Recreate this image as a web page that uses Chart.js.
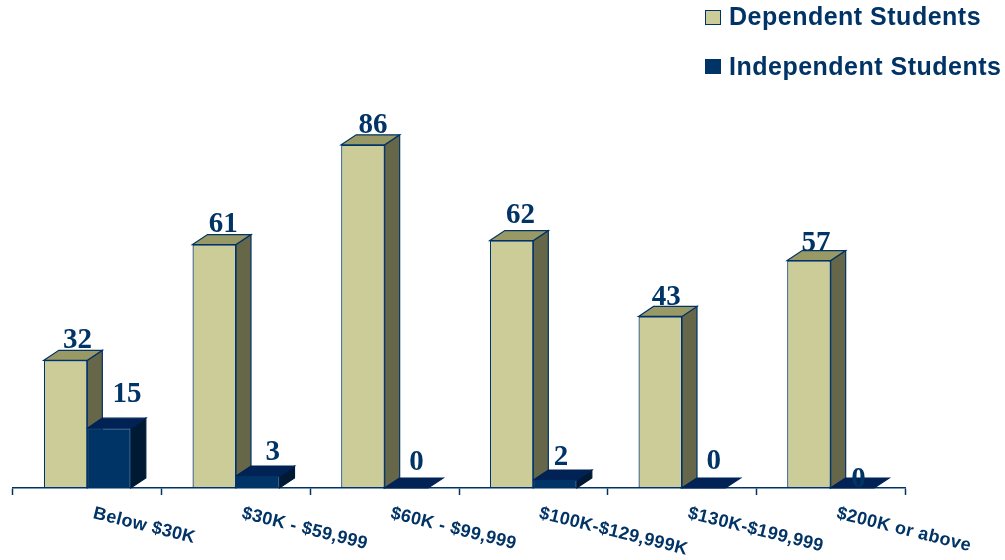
<!DOCTYPE html>
<html>
<head>
<meta charset="utf-8">
<title>Students by income</title>
<script src="https://cdn.jsdelivr.net/npm/chart.js@4"></script>
<style>
  html, body { margin: 0; padding: 0; background: #fff; }
  canvas { display: block; }
</style>
</head>
<body>
<canvas id="incomeChart" width="1005" height="560"></canvas>
<script>
var categories = ['Below $30K', '$30K - $59,999', '$60K - $99,999', '$100K-$129,999K', '$130K-$199,999', '$200K or above'];
var dependentValues = [32, 61, 86, 62, 43, 57];
var independentValues = [15, 3, 0, 2, 0, 0];
var seriesNames = ['Dependent Students', 'Independent Students'];

// how far each number sits from its bar top, as placed in the original [dx, dy]
var dependentNudge = [[12, -12], [9, -13], [10, -12], [9, -18], [6, -11], [7, -10]];
var independentNudge = [[18, -26], [15, -16], [10, -18], [6, -15], [10, -19], [6, -1]];

var NAVY = '#003366';
var DEPTH_X = 15;
var DEPTH_Y = 10;
var faces = [
    { top: '#999966', side: '#666648', nudge: dependentNudge },
    { top: '#002255', side: '#001a33', nudge: independentNudge }
];

function poly(ctx, pts, fill, stroke) {
    ctx.beginPath();
    pts.forEach(function (p, i) {
        if (i === 0) ctx.moveTo(p[0], p[1]); else ctx.lineTo(p[0], p[1]);
    });
    ctx.closePath();
    ctx.fillStyle = fill;
    ctx.fill();
    ctx.strokeStyle = stroke;
    ctx.lineWidth = 1.2;
    ctx.stroke();
}

// top and side faces go behind the library's own bars
var depthPlugin = {
    id: 'depth',
    beforeDatasetsDraw: function (chart) {
        var ctx = chart.ctx;
        ctx.save();
        faces.forEach(function (face, d) {
            chart.getDatasetMeta(d).data.forEach(function (bar) {
                var l = bar.x - bar.width / 2;
                var r = bar.x + bar.width / 2;
                var t = bar.y;
                var b = bar.base;
                if (b - t > 0) {
                    poly(ctx, [[r, t], [r + DEPTH_X, t - DEPTH_Y], [r + DEPTH_X, b - DEPTH_Y], [r, b]], face.side, d === 0 ? NAVY : face.side);
                }
                poly(ctx, [[l, t], [l + DEPTH_X, t - DEPTH_Y], [r + DEPTH_X, t - DEPTH_Y], [r, t]], face.top, d === 0 ? NAVY : face.top);
            });
        });
        ctx.restore();
    }
};

// numbers, slanted category labels and the legend
var textPlugin = {
    id: 'texts',
    afterDraw: function (chart) {
        var ctx = chart.ctx;
        var xScale = chart.scales.x;
        ctx.save();
        ctx.fillStyle = NAVY;

        ctx.font = 'bold 29px "Liberation Serif"';
        ctx.textAlign = 'center';
        ctx.textBaseline = 'alphabetic';
        faces.forEach(function (face, d) {
            chart.getDatasetMeta(d).data.forEach(function (bar, i) {
                ctx.fillText(chart.data.datasets[d].data[i], bar.x + face.nudge[i][0], bar.y + face.nudge[i][1]);
            });
        });

        ctx.font = 'bold 18px "Liberation Sans"';
        ctx.letterSpacing = '0.35px';
        ctx.textAlign = 'left';
        categories.forEach(function (label, i) {
            ctx.save();
            ctx.translate(xScale.getPixelForTick(i) + 5, 518);
            ctx.rotate(14 * Math.PI / 180);
            ctx.fillText(label, 0, 0);
            ctx.restore();
        });

        ctx.font = 'bold 25px "Liberation Sans"';
        ctx.letterSpacing = '0.5px';
        chart.data.datasets.forEach(function (ds, d) {
            var y = d === 0 ? 10 : 59;
            ctx.fillStyle = ds.backgroundColor;
            ctx.strokeStyle = NAVY;
            ctx.lineWidth = 1;
            ctx.fillRect(705.5, y + 0.5, 15, 14);
            ctx.strokeRect(705.5, y + 0.5, 15, 14);
            ctx.fillStyle = NAVY;
            ctx.fillText(ds.label, 729, d === 0 ? 25 : 75);
        });
        ctx.restore();
    }
};

var ctx1 = document.getElementById('incomeChart').getContext('2d');
var incomeChart = new Chart(ctx1, {
    type: 'bar',
    data: {
        labels: categories,
        datasets: [{
            label: seriesNames[0],
            data: dependentValues,
            backgroundColor: '#CCCC99',
            borderColor: NAVY,
            borderWidth: 1.2,
            borderSkipped: false
        }, {
            label: seriesNames[1],
            data: independentValues,
            backgroundColor: NAVY,
            borderColor: NAVY,
            borderWidth: 1,
            borderSkipped: false
        }]
    },
    options: {
        responsive: false,
        animation: false,
        layout: { padding: { top: 89, left: 13, right: 100, bottom: 0 } },
        datasets: { bar: { categoryPercentage: 0.585, barPercentage: 1 } },
        scales: {
            x: {
                ticks: { display: false },
                grid: { drawOnChartArea: false, tickLength: 7, tickColor: NAVY, tickWidth: 1.5, offset: true },
                border: { color: NAVY, width: 1.5 },
                afterFit: function (scale) { scale.height = 72; }
            },
            y: { display: false, min: 0, max: 100 }
        },
        plugins: {
            legend: { display: false },
            tooltip: { enabled: false }
        }
    },
    plugins: [depthPlugin, textPlugin]
});
</script>
</body>
</html>
